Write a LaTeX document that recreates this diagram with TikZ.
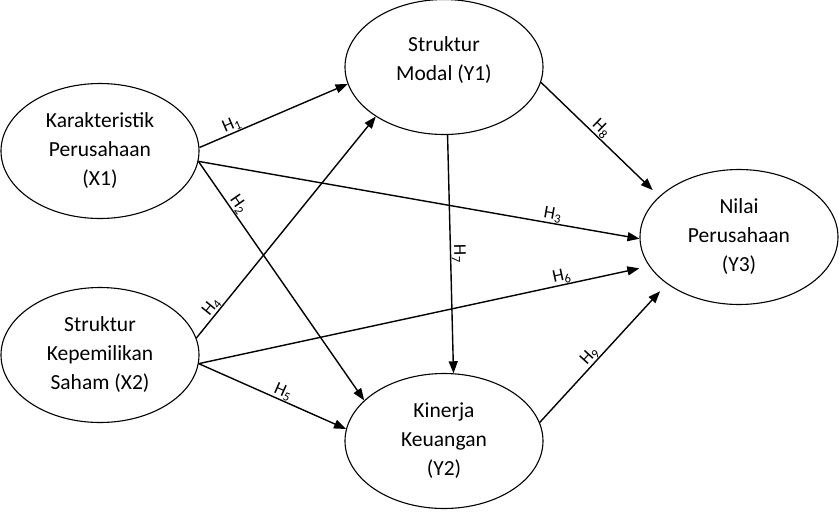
\documentclass[tikz,border=0pt]{standalone}
\usepackage{fontspec}
\setmainfont{Carlito}
\usetikzlibrary{shapes.geometric,arrows.meta}
\begin{document}
\begin{tikzpicture}[x=1pt,y=-1pt,
    var/.style={draw,ellipse,line width=1.1pt,minimum width=198pt,minimum height=135pt,
      inner sep=0pt,align=center,font=\fontsize{21.5}{29}\selectfont},
    path/.style={line width=1.4pt,-{Triangle[length=12pt,width=9pt]}},
    hyp/.style={sloped,above,inner sep=0.5pt,font=\fontsize{18}{20}\selectfont}]
    \useasboundingbox (0,0) rectangle (839,512);
    % variabel
    \node[var] (x1) at (100,151) {Karakteristik\\Perusahaan\\(X1)};
    \node[var] (x2) at (100,355) {Struktur\\Kepemilikan\\Saham (X2)};
    \node[var] (y1) at (444,67) {Struktur\\Modal (Y1)\\[-12pt]\mbox{}};
    \node[var] (y2) at (444,441) {Kinerja\\Keuangan\\(Y2)};
    \node[var] (y3) at (739,237) {Nilai\\Perusahaan\\(Y3)};
    % hipotesis
    \draw[path] (x1.2) -- node[hyp,pos=0.24] {H\textsubscript{1}} (y1.190);
    \draw[path] (x1.-6) -- node[hyp,pos=0.2] {H\textsubscript{2}} (y2.153);
    \draw[path] (x1.-6) -- node[hyp,pos=0.8] {H\textsubscript{3}} (y3.181);
    \draw[path] (x2.10) -- node[hyp,pos=0.12] {H\textsubscript{4}} (y1.216);
    \draw[path] (x2.-5) -- node[hyp,pos=0.55] {H\textsubscript{5}} (y2.173);
    \draw[path,shorten >=10pt] (x2.-5) -- node[hyp,pos=0.81] {H\textsubscript{6}} (y3.198);
    \draw[path] (y1.-87) -- node[hyp,pos=0.5] {H\textsubscript{7}} (y2.82);
    \draw[path,shorten >=9pt] (y1.-9) -- node[hyp,pos=0.46] {H\textsubscript{8}} (y3.153);
    \draw[path,shorten >=10pt] (y2.11) -- node[hyp,pos=0.44] {H\textsubscript{9}} (y3.213);
\end{tikzpicture}
\end{document}
